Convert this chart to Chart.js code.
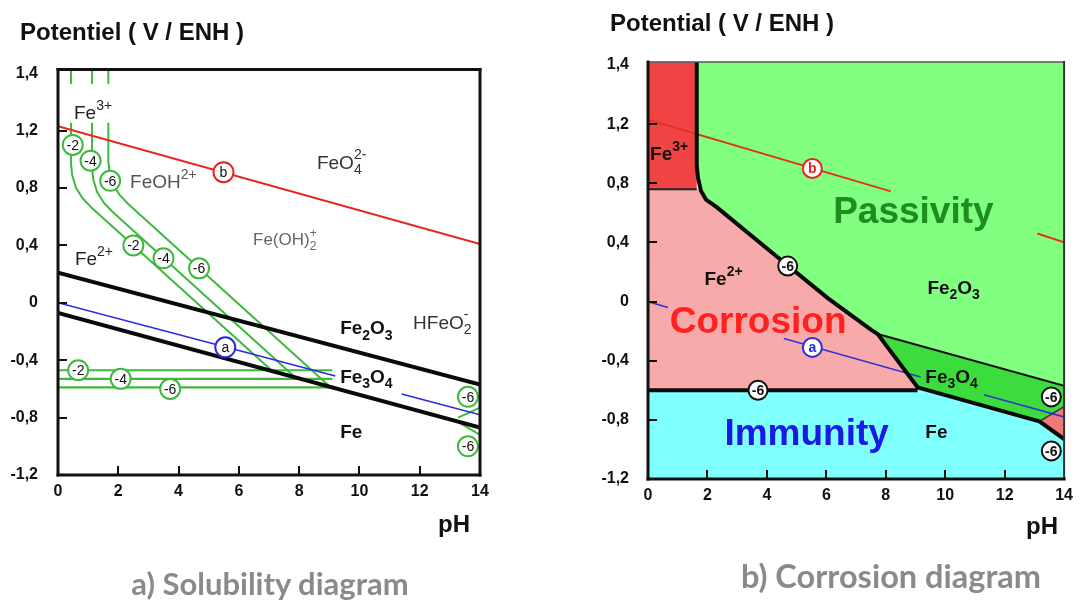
<!DOCTYPE html>
<html><head><meta charset="utf-8">
<script src="https://cdn.jsdelivr.net/npm/chart.js@4.4.1/dist/chart.umd.min.js"></script>
<style>
html,body{margin:0;padding:0;background:#fff;width:1080px;height:603px;overflow:hidden;}
canvas{position:absolute;top:0;}
#cl{left:0;} #cr{left:540px;}
.cap{position:absolute;font-family:Lato,"Open Sans",sans-serif;font-weight:bold;color:#8a8a8a;white-space:nowrap;text-align:center;line-height:36px;height:36px;}
</style></head><body>
<canvas id="cl" width="540" height="603"></canvas>
<canvas id="cr" width="540" height="603"></canvas>
<div class="cap" style="left:70px;width:400px;top:565px;font-size:31px">a) Solubility diagram</div>
<div class="cap" style="left:691px;width:400px;top:558px;font-size:32.5px">b) Corrosion diagram</div>
<script>
// ---------- axes ----------
const Y_TICK_VALUES = [-1.2,-0.8,-0.4,0,0.4,0.8,1.2,1.6];
const Y_TICK_LABELS = ['-1,2','-0,8','-0,4','0','0,4','0,8','1,2','1,4'];
const X_TICK_VALUES = [0,2,4,6,8,10,12,14];
const X_TICK_LABELS = ['0','2','4','6','8','10','12','14'];
const X_INNER_TICKS = [2,4,6,8,10,12];
const Y_INNER_TICKS = [-0.8,-0.4,0,0.4,0.8,1.2];

// ---------- a) solubility diagram (pH, E) ----------
const L_lineB = [[0,1.23],[14,0.41]];
const L_lineA = [[0,0],[9.2,-0.51],[10,null],[11.4,-0.635],[14,-0.78]];
const L_fe2o3_fe3o4 = [[0,0.21],[14,-0.57]];
const L_fe3o4_fe = [[0,-0.07],[14,-0.87]];
const L_topStubs = [[0.43,1.63],[0.43,1.53],[0.7,null],[1.13,1.63],[1.13,1.53],[1.4,null],[1.67,1.63],[1.67,1.53]];
const L_curveM2 = [[0.43,1.25],[0.43,0.97],[0.47,0.89],[0.60,0.80],[0.81,0.73],[1.08,0.67],[7.08,-0.47]];
const L_curveM4 = [[1.13,1.25],[1.13,0.94],[1.17,0.86],[1.30,0.77],[1.51,0.70],[1.78,0.64],[7.92,-0.53]];
const L_curveM6 = [[1.67,1.25],[1.67,0.99],[1.71,0.91],[1.84,0.82],[2.05,0.75],[2.32,0.69],[9.05,-0.59]];
const L_horizM2 = [[0,-0.47],[9.1,-0.47]];
const L_horizM4 = [[0,-0.53],[9.1,-0.53]];
const L_horizM6 = [[0,-0.59],[9.1,-0.59]];
const L_edgeUp = [[13.27,-0.80],[14,-0.73]];
const L_edgeDown = [[13.27,-0.83],[14,-0.92]];
const L_circlesGreen = [[0.49,1.10,'-2'],[1.08,0.99,'-4'],[1.73,0.85,'-6'],[2.5,0.40,'-2'],[3.5,0.31,'-4'],[4.68,0.24,'-6'],
  [0.67,-0.47,'-2'],[2.08,-0.53,'-4'],[3.72,-0.60,'-6'],[13.6,-0.655,'-6'],[13.6,-1.00,'-6']];
const L_circleB = [[5.49,0.91,'b']];
const L_circleA = [[5.55,-0.31,'a']];

// ---------- b) corrosion diagram (pH, E) ----------
const R_passivity = [[1.64,1.62],[14,1.62],[14,-0.57],[7.73,-0.22],[7.5,-0.19],[6.07,0.02],[4.3,0.31],[2.3,0.64],[1.95,0.69],[1.78,0.75],[1.68,0.84],[1.64,0.92]];
const R_fe3 = [[0,1.62],[1.64,1.62],[1.64,0.76],[0,0.76]];
const R_fe2 = [[0,0.76],[1.77,0.76],[1.95,0.69],[2.3,0.64],[4.3,0.31],[6.07,0.02],[7.5,-0.19],[7.73,-0.22],[9.07,-0.58],[9.07,-0.60],[0,-0.60]];
const R_fe3o4 = [[7.73,-0.22],[14,-0.57],[14,-0.71],[13.17,-0.81],[9.07,-0.58]];
const R_hfeo2 = [[13.17,-0.81],[14,-0.71],[14,-0.93]];
const R_immunity = [[0,-0.60],[9.07,-0.60],[9.07,-0.58],[13.17,-0.81],[14,-0.93],[14,-1.2],[0,-1.2]];
const R_boundary = [[1.64,1.63],[1.64,0.92],[1.68,0.84],[1.78,0.75],[1.95,0.69],[2.3,0.64],[4.3,0.31],[6.07,0.02],[7.5,-0.19],[7.73,-0.22],[9.07,-0.58],[13.17,-0.81],[14,-0.93]];
const R_fe2_fe = [[0,-0.60],[9.07,-0.60]];
const R_fe3_fe2 = [[0,0.76],[1.64,0.76]];
const R_fe2o3_fe3o4 = [[7.73,-0.22],[14,-0.57]];
const R_fe3o4_hfeo2 = [[13.17,-0.81],[14,-0.71]];
const R_lineB = [[0,1.23],[8.17,0.745],[10,null],[13.1,0.46],[14,0.40]];
const R_lineA = [[0,0],[0.67,-0.04],[2,null],[4.57,-0.25],[9.17,-0.51],[10,null],[11.3,-0.63],[14,-0.78]];
const R_circles6 = [[4.7,0.24,'-6'],[3.7,-0.60,'-6'],[13.57,-0.645,'-6'],[13.57,-1.01,'-6']];
const R_circleB = [[5.53,0.90,'b']];
const R_circleA = [[5.53,-0.31,'a']];

const FONT = '"Liberation Sans", Arial, Helvetica, sans-serif';
Chart.defaults.font.family = FONT;

function xy(arr){ return arr.map(p => ({x:p[0], y:p[1]})); }
function lineDS(arr, color, width, order){
  return {type:'line', data:xy(arr), borderColor:color, borderWidth:width, pointRadius:0, fill:false,
          tension:0, spanGaps:false, order:order, borderCapStyle:'butt', borderJoinStyle:'round'};
}
function polyDS(arr, color, order){
  return {type:'line', data:xy(arr), borderWidth:0, borderColor:'rgba(0,0,0,0)', backgroundColor:color,
          fill:'shape', pointRadius:0, order:order};
}
function circleDS(arr, stroke, textColor, r, order){
  return {type:'line', data:xy(arr), showLine:false, pointRadius:r, pointHoverRadius:r, pointBackgroundColor:'#fff',
          pointBorderColor:stroke, pointBorderWidth:2, order:order, circleText:arr.map(p=>p[2]), circleTextColor:textColor};
}

function drawChem(ctx, parts, x, y, size, weight, color){
  let cx = x;
  ctx.fillStyle = color; ctx.textAlign = 'left'; ctx.textBaseline = 'alphabetic';
  const small = Math.round(size*0.72);
  parts.forEach(p => {
    const [t, k, t2] = p;
    if (k === 'n') {
      ctx.font = `${weight} ${size}px ${FONT}`; ctx.fillText(t, cx, y); cx += ctx.measureText(t).width;
    } else if (k === 'sup') {
      ctx.font = `${weight} ${small}px ${FONT}`; ctx.fillText(t, cx, y - size*0.48); cx += ctx.measureText(t).width;
    } else if (k === 'sub') {
      ctx.font = `${weight} ${small}px ${FONT}`; ctx.fillText(t, cx, y + size*0.28); cx += ctx.measureText(t).width;
    } else if (k === 'ss') {
      ctx.font = `${weight} ${small}px ${FONT}`;
      ctx.fillText(t, cx, y + size*0.3); ctx.fillText(t2, cx, y - size*0.5);
      cx += Math.max(ctx.measureText(t).width, ctx.measureText(t2).width);
    }
  });
}

const framePlugin = {
  id:'frame',
  afterDatasetsDraw(chart, args, o){
    const {ctx, chartArea:a, scales:{x, y}} = chart;
    ctx.save();
    ctx.strokeStyle = '#111'; ctx.lineWidth = 2; ctx.lineCap = 'butt';
    X_INNER_TICKS.forEach(v => { const p = Math.round(x.getPixelForValue(v)); ctx.beginPath(); ctx.moveTo(p, a.bottom); ctx.lineTo(p, a.bottom - o.len); ctx.stroke(); });
    Y_INNER_TICKS.forEach(v => { const p = Math.round(y.getPixelForValue(v)); ctx.beginPath(); ctx.moveTo(a.left, p); ctx.lineTo(a.left + o.len, p); ctx.stroke(); });
    ctx.lineCap = 'square';
    const seg = (x1,y1,x2,y2,s) => { ctx.strokeStyle = s[1]; ctx.lineWidth = s[0]; ctx.beginPath(); ctx.moveTo(x1,y1); ctx.lineTo(x2,y2); ctx.stroke(); };
    seg(a.left, a.top, a.right, a.top, o.top);
    seg(a.right, a.top, a.right, a.bottom, o.right);
    seg(a.left, a.bottom, a.right, a.bottom, o.bottom);
    seg(a.left, a.top, a.left, a.bottom, o.left);
    ctx.restore();
  }
};

const annotPlugin = {
  id:'annot',
  afterDraw(chart, args, o){
    const ctx = chart.ctx; const {x, y} = chart.scales;
    ctx.save();
    chart.data.datasets.forEach((ds, i) => {
      if (!ds.circleText) return;
      const meta = chart.getDatasetMeta(i);
      meta.data.forEach((el, j) => {
        ctx.font = `${o.circleWeight} 14px ${FONT}`; ctx.fillStyle = ds.circleTextColor;
        ctx.textAlign = 'center'; ctx.textBaseline = 'middle';
        ctx.fillText(ds.circleText[j], el.x, el.y + 1);
      });
    });
    (o.labels || []).forEach(l => drawChem(ctx, l.parts, x.getPixelForValue(l.x), y.getPixelForValue(l.y), l.size, l.weight, l.color));
    (o.texts || []).forEach(t => {
      ctx.font = `bold ${t.size}px ${FONT}`; ctx.fillStyle = '#111'; ctx.textAlign = t.align; ctx.textBaseline = 'middle';
      ctx.fillText(t.text, t.px, t.py);
    });
    ctx.restore();
  }
};

function makeOptions(c){
  return {
    responsive:false, animation:false, devicePixelRatio:1, events:[],
    layout:{padding:{top:c.top, right:c.right, left:0, bottom:0}},
    plugins:{legend:{display:false}, tooltip:{enabled:false}, title:{display:false},
             frame:c.frame, annot:c.annot},
    scales:{
      x:{type:'linear', min:0, max:14,
         afterBuildTicks: s => { s.ticks = X_TICK_VALUES.map(v => ({value:v})); },
         afterFit: s => { s.height = c.xh; },
         grid:{display:false, drawTicks:false}, border:{display:false},
         ticks:{padding:c.xpad, color:'#111', autoSkip:false, maxRotation:0, font:{size:c.tickSize, weight:'bold'},
                callback:(v, i) => X_TICK_LABELS[i]}},
      y:{type:'linear', min:-1.2, max:c.ymax,
         afterBuildTicks: s => { s.ticks = Y_TICK_VALUES.map(v => ({value:v})); },
         afterFit: s => { s.width = c.yw; },
         grid:{display:false, drawTicks:false}, border:{display:false},
         ticks:{padding:c.ypad, color:'#111', autoSkip:false, font:{size:c.tickSize, weight:'bold'},
                callback:(v, i) => Y_TICK_LABELS[i]}}
    }
  };
}

const GREEN = '#3dba3d';
// ---------- left chart ----------
new Chart(document.getElementById('cl'), {
  type:'line',
  data:{datasets:[
    circleDS(L_circlesGreen, GREEN, '#111', 10, 1),
    circleDS(L_circleB, '#e8231c', '#111', 10, 1),
    circleDS(L_circleA, '#2a2ae0', '#111', 10, 1),
    lineDS(L_fe2o3_fe3o4, '#0a0a0a', 4, 3),
    lineDS(L_fe3o4_fe, '#0a0a0a', 4, 3),
    lineDS(L_lineB, '#e8231c', 2, 4),
    lineDS(L_lineA, '#2a2ae0', 1.6, 4),
    lineDS(L_topStubs, GREEN, 2, 5),
    lineDS(L_curveM2, GREEN, 2, 5),
    lineDS(L_curveM4, GREEN, 2, 5),
    lineDS(L_curveM6, GREEN, 2, 5),
    lineDS(L_horizM2, GREEN, 2.2, 5),
    lineDS(L_horizM4, GREEN, 2.2, 5),
    lineDS(L_horizM6, GREEN, 2.2, 5),
    lineDS(L_edgeUp, GREEN, 2, 5),
    lineDS(L_edgeDown, GREEN, 2, 5)
  ]},
  options: makeOptions({top:69.6, right:60, yw:58, xh:128, ymax:1.625, xpad:7, ypad:20, tickSize:16,
    frame:{len:9, top:[3,'#111'], right:[3,'#111'], bottom:[3,'#111'], left:[3,'#111']},
    annot:{circleWeight:'normal',
      labels:[
        {parts:[['Fe','n'],['3+','sup']], x:0.53, y:1.28, size:19, weight:'normal', color:'#222'},
        {parts:[['FeOH','n'],['2+','sup']], x:2.39, y:0.80, size:19, weight:'normal', color:'#555'},
        {parts:[['Fe','n'],['2+','sup']], x:0.56, y:0.26, size:19, weight:'normal', color:'#222'},
        {parts:[['FeO','n'],['4','ss','2-']], x:8.59, y:0.935, size:19, weight:'normal', color:'#333'},
        {parts:[['Fe(OH)','n'],['2','ss','+']], x:6.47, y:0.40, size:17, weight:'normal', color:'#666'},
        {parts:[['Fe','n'],['2','sub'],['O','n'],['3','sub']], x:9.36, y:-0.22, size:19, weight:'bold', color:'#111'},
        {parts:[['HFeO','n'],['2','ss','-']], x:11.78, y:-0.18, size:19, weight:'normal', color:'#333'},
        {parts:[['Fe','n'],['3','sub'],['O','n'],['4','sub']], x:9.36, y:-0.56, size:19, weight:'bold', color:'#111'},
        {parts:[['Fe','n']], x:9.36, y:-0.94, size:19, weight:'bold', color:'#111'}
      ],
      texts:[
        {text:'Potentiel ( V / ENH )', px:20, py:33, size:24, align:'left'},
        {text:'pH', px:470, py:525, size:24, align:'right'}
      ]}
  }),
  plugins:[framePlugin, annotPlugin]
});

// ---------- right chart ----------
new Chart(document.getElementById('cr'), {
  type:'line',
  data:{datasets:[
    circleDS(R_circles6, '#111', '#111', 9.5, 1),
    circleDS(R_circleB, '#e8231c', '#e8231c', 9.5, 1),
    circleDS(R_circleA, '#2a2ae0', '#2a2ae0', 9.5, 1),
    lineDS(R_boundary, '#0a0a0a', 4, 2),
    lineDS(R_fe2_fe, '#0a0a0a', 4, 2),
    lineDS(R_fe3_fe2, '#222', 2, 3),
    lineDS(R_fe2o3_fe3o4, '#111', 2, 3),
    lineDS(R_fe3o4_hfeo2, '#333', 1.5, 3),
    lineDS(R_lineB, '#e0341c', 2, 4),
    lineDS(R_lineA, '#3434d0', 1.6, 4),
    polyDS(R_hfeo2, '#ef7878', 6),
    polyDS(R_immunity, '#80ffff', 7),
    polyDS(R_fe3o4, '#3ddc3d', 7),
    polyDS(R_fe3, '#f04444', 7),
    polyDS(R_fe2, '#f7aaaa', 7),
    polyDS(R_passivity, '#80ff80', 8)
  ]},
  options: makeOptions({top:62, right:12, yw:108, xh:124, ymax:1.62, xpad:7, ypad:19, tickSize:16,
    frame:{len:9, top:[1.5,'#555'], right:[2,'#333'], bottom:[3,'#111'], left:[3,'#111']},
    annot:{circleWeight:'bold',
      labels:[
        {parts:[['Fe','n'],['3+','sup']], x:0.07, y:0.956, size:19, weight:'bold', color:'#111'},
        {parts:[['Fe','n'],['2+','sup']], x:1.9, y:0.11, size:19, weight:'bold', color:'#111'},
        {parts:[['Passivity','n']], x:6.23, y:0.53, size:37, weight:'bold', color:'#1e8c1e'},
        {parts:[['Fe','n'],['2','sub'],['O','n'],['3','sub']], x:9.4, y:0.05, size:19, weight:'bold', color:'#111'},
        {parts:[['Corrosion','n']], x:0.73, y:-0.21, size:37, weight:'bold', color:'#ff2020'},
        {parts:[['Immunity','n']], x:2.57, y:-0.97, size:37, weight:'bold', color:'#1a1ae6'},
        {parts:[['Fe','n'],['3','sub'],['O','n'],['4','sub']], x:9.33, y:-0.55, size:19, weight:'bold', color:'#111'},
        {parts:[['Fe','n']], x:9.33, y:-0.92, size:19, weight:'bold', color:'#111'}
      ],
      texts:[
        {text:'Potential ( V / ENH )', px:70, py:24, size:24, align:'left'},
        {text:'pH', px:518, py:527, size:24, align:'right'}
      ]}
  }),
  plugins:[framePlugin, annotPlugin]
});
</script>
</body></html>
